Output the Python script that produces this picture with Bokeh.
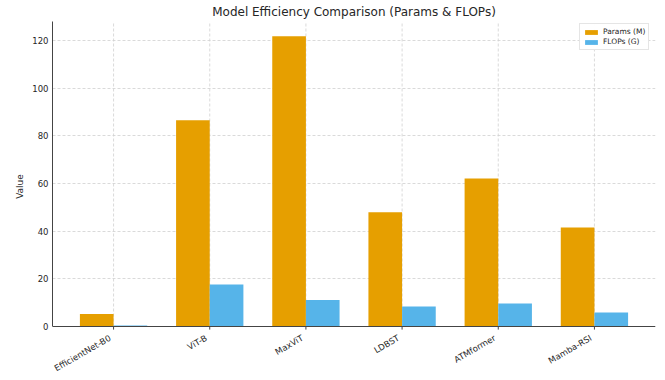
import math
from bokeh.plotting import figure
from bokeh.models import ColumnDataSource, Range1d, FixedTicker, Legend, LegendItem, Span
from bokeh.core.properties import value
from bokeh.transform import dodge
from bokeh.embed import file_html
from bokeh.resources import INLINE

models = ["EfficientNet-B0", "ViT-B", "MaxViT", "LDBST", "ATMformer", "Mamba-RSI"]
params_m = [5.3, 86.6, 121.8, 47.9, 62.1, 41.5]
flops_g = [0.39, 17.6, 11.1, 8.4, 9.7, 5.9]
y_ticks = [0, 20, 40, 60, 80, 100, 120]
title_text = "Model Efficiency Comparison (Params & FLOPs)"

FONT = "DejaVu Sans"
TXT = "#262626"
n = len(models)
pos = list(range(n))
Y_TOP = 128.0                      # top of the axes (like matplotlib ylim)
src = ColumnDataSource(dict(x=pos, params=params_m, flops=flops_g, name=models,
                            base=[0] * n, top=[Y_TOP] * n, tick=[-1.3] * n))

# frame spans the full height so labels below y=0 and the title can be drawn inside it
p = figure(width=657, height=372, output_backend="svg", toolbar_location=None,
           x_range=Range1d(-0.635, n - 1 + 0.635), y_range=Range1d(-19.30, 136.81),
           min_border_left=52, min_border_right=2, min_border_top=0, min_border_bottom=0)
p.title = None
p.xaxis.visible = False
p.xgrid.visible = False
p.outline_line_color = None

# vertical grid lines at the categories
p.segment(x0="x", y0="base", x1="x", y1="top", source=src, line_color="#d0d0d0",
          line_dash="3 2", line_width=0.8)

w = 0.35
r1 = p.vbar(x=dodge("x", -w / 2, range=p.x_range), top="params", width=w, source=src,
            fill_color="#E69F00", line_color=None)
r2 = p.vbar(x=dodge("x", w / 2, range=p.x_range), top="flops", width=w, source=src,
            fill_color="#56B4E9", line_color=None)

# bottom spine and ticks
p.add_layout(Span(location=0, dimension="width", line_color="#444444", line_width=1))
p.segment(x0="x", y0="base", x1="x", y1="tick", source=src, line_color="#444444", line_width=1)

# rotated category labels, right-aligned at each tick
p.text(x="x", y="base", text="name", source=src, angle=30, angle_units="deg",
       text_align="right", text_baseline="bottom", y_offset=15, x_offset=-1,
       text_font=value(FONT), text_font_size="8.5px", text_color=TXT)

# title
p.text(x=[(n - 1) / 2], y=[Y_TOP], text=[title_text], y_offset=-9,
       text_align="center", text_baseline="middle",
       text_font=value(FONT), text_font_size="12px", text_color=TXT)

# y axis
p.yaxis.ticker = FixedTicker(ticks=y_ticks)
p.yaxis.bounds = (0, Y_TOP)
p.yaxis.axis_label = "Value"
p.yaxis.major_label_text_font = FONT
p.yaxis.major_label_text_font_size = "8.5px"
p.yaxis.major_label_text_color = TXT
p.yaxis.axis_line_color = "#444444"
p.yaxis.major_tick_out = 0
p.yaxis.major_tick_in = 0
p.yaxis.minor_tick_line_color = None
p.yaxis.major_label_standoff = 4
p.yaxis.axis_label_text_font = FONT
p.yaxis.axis_label_text_font_size = "9px"
p.yaxis.axis_label_text_font_style = "normal"
p.yaxis.axis_label_text_color = TXT
p.yaxis.axis_label_standoff = 4

p.ygrid.grid_line_color = "#d0d0d0"
p.ygrid.grid_line_dash = "3 2"
p.ygrid.grid_line_width = 0.8
p.ygrid.bounds = (-0.635, n - 1 + 0.635)

legend = Legend(items=[LegendItem(label="Params (M)", renderers=[r1]),
                       LegendItem(label="FLOPs (G)", renderers=[r2])],
                location=(527, 322))
legend.label_text_font = FONT
legend.label_text_font_size = "7.5px"
legend.label_text_color = TXT
legend.glyph_width = 16
legend.glyph_height = 6
legend.label_height = 9
legend.label_standoff = 4
legend.spacing = 1
legend.padding = 3
legend.margin = 0
legend.border_line_color = "#cccccc"
legend.border_line_width = 1
p.add_layout(legend)

open("out.html", "w").write(file_html(p, INLINE))
